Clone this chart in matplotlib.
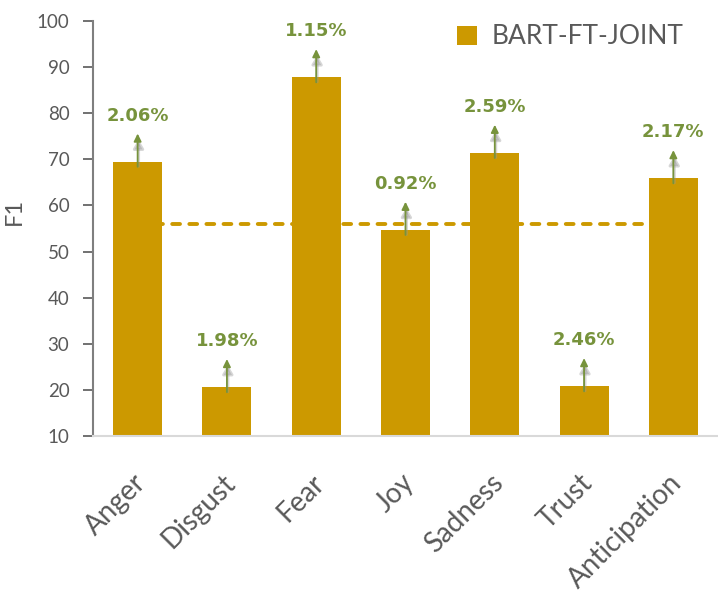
import matplotlib.pyplot as plt
import matplotlib.transforms as mtransforms
from matplotlib.patches import Patch

# data
emotions = ["Anger", "Disgust", "Fear", "Joy", "Sadness", "Trust", "Anticipation"]
f1_scores = [69.5, 20.6, 87.8, 54.7, 71.4, 20.8, 65.9]
gains = ["2.06%", "1.98%", "1.15%", "0.92%", "2.59%", "2.46%", "2.17%"]
avg_f1 = 55.9
series_name = "BART-FT-JOINT"

bar_color = "#cc9900"
green = "#77933c"
gray_text = "#595959"

plt.rcParams["font.family"] = ["Lato", "DejaVu Sans"]

fig = plt.figure(figsize=(7.18, 5.92), dpi=100)
ax = fig.add_axes([93 / 718, 156 / 592, 625 / 718, 415 / 592])

x = list(range(len(emotions)))

# average line sits behind the bars
ax.plot([x[0], x[-1]], [avg_f1, avg_f1], color=bar_color, lw=2.8,
        linestyle=(0, (2.0, 2.4)), dash_capstyle="round", zorder=1)

ax.bar(x, f1_scores, width=0.55, color=bar_color, zorder=2)

# small up-arrows with the gain labels
for xi, val, lab in zip(x, f1_scores, gains):
    # soft shadow
    ax.annotate("", xy=(xi + 0.01, val + 5.4), xytext=(xi + 0.01, val - 1.6),
                arrowprops=dict(arrowstyle="-|>,head_length=0.5,head_width=0.3",
                                color="#9a9a9a", lw=2.2, alpha=0.4),
                zorder=3)
    ax.annotate("", xy=(xi, val + 6.1), xytext=(xi, val - 1.1),
                arrowprops=dict(arrowstyle="-|>,head_length=0.45,head_width=0.22",
                                color=green, lw=1.3, shrinkA=0, shrinkB=0),
                zorder=4)
    ax.text(xi, val + 10.0, lab, ha="center", va="center", fontsize=13,
            fontweight="bold", color=green, family="DejaVu Sans", zorder=5)

ax.set_xlim(-0.5, len(emotions) - 0.5)
ax.set_ylim(10, 100)
ax.set_yticks(range(10, 101, 10))
ax.set_xticks(x)
ax.set_xticklabels(emotions, rotation=45, ha="right", va="top",
                   rotation_mode="anchor", fontsize=20, color=gray_text)
ax.tick_params(axis="x", length=0, pad=24)
shift = mtransforms.ScaledTranslation(-5 / 100, 0, fig.dpi_scale_trans)
for t in ax.get_xticklabels():
    t.set_transform(t.get_transform() + shift)
ax.tick_params(axis="y", direction="out", length=7, width=1.2, color=gray_text,
               labelsize=13.5, labelcolor=gray_text, pad=10)

ax.set_ylabel("F1", fontsize=17, color=gray_text)
ax.yaxis.set_label_coords(-0.109, 0.542)

for side in ["top", "right"]:
    ax.spines[side].set_visible(False)
ax.spines["left"].set_color("#7f7f7f")
ax.spines["left"].set_linewidth(1.5)
ax.spines["bottom"].set_color("#d9d9d9")
ax.spines["bottom"].set_linewidth(1.5)

handle = Patch(facecolor=bar_color, edgecolor="none")
ax.legend([handle], [series_name], loc="upper right", frameon=False,
          bbox_to_anchor=(702 / 718, 0.99), bbox_transform=fig.transFigure,
          handlelength=0.75, handleheight=0.75, handletextpad=0.55,
          prop={"size": 19}, labelcolor=gray_text, borderaxespad=0.3)

fig.savefig("out.png", dpi=100)
